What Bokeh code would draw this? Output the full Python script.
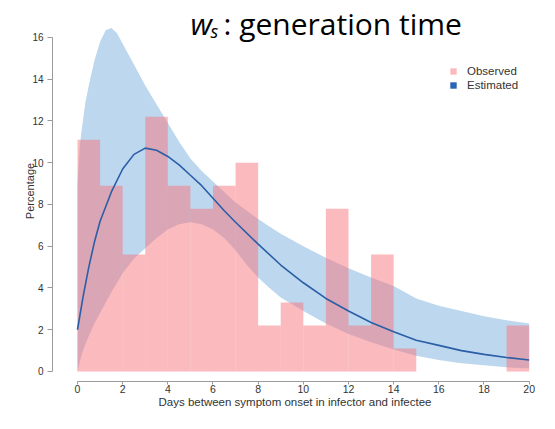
from bokeh.plotting import figure
from bokeh.models import Range1d, FixedTicker, Label, Legend, LegendItem
from bokeh.embed import file_html
from bokeh.resources import INLINE

# Observed histogram (percentage of pairs per 1-day bin)
bin_left = [0, 1, 2, 3, 4, 5, 6, 7, 8, 9, 10, 11, 12, 13, 14, 15, 16, 17, 18, 19]
bin_right = [1, 2, 3, 4, 5, 6, 7, 8, 9, 10, 11, 12, 13, 14, 15, 16, 17, 18, 19, 20]
observed = [11.1, 8.9, 5.6, 12.2, 8.9, 7.8, 8.9, 10.0, 2.2, 3.3,
            2.2, 7.8, 2.2, 5.6, 1.1, 0.0, 0.0, 0.0, 0.0, 2.2]

# Estimated distribution: credible band
band_x = [0, 0.1, 0.2, 0.35, 0.5, 0.75, 1, 1.25, 1.5, 1.75, 2, 2.5, 3, 3.5, 4, 4.5, 5, 5.5, 6, 6.5, 7,
          7.5, 8, 8.5, 9, 10, 11, 12, 13, 14, 15, 16, 17, 18, 19, 20]
band_lower = [0.0, 0.45, 0.85, 1.3, 1.7, 2.3, 2.8, 3.3, 3.8, 4.25, 4.7, 5.4, 5.9, 6.4, 6.8, 7.05, 7.15, 7.05, 6.8, 6.4, 5.8,
              5.1, 4.5, 4.0, 3.55, 2.9, 2.3, 1.8, 1.4, 1.05, 0.75, 0.55, 0.4, 0.3, 0.2, 0.15]
band_upper = [9.0, 10.8, 11.7, 12.9, 13.7, 14.9, 15.8, 16.35, 16.45, 16.2, 15.7, 14.7, 13.7, 12.8, 11.9, 11.0, 10.2, 9.6, 9.1, 8.6, 8.1,
              7.7, 7.3, 6.95, 6.6, 6.0, 5.45, 4.95, 4.5, 4.1, 3.5, 3.15, 2.9, 2.65, 2.45, 2.3]

# Estimated distribution: point estimate
est_x = [0, 0.25, 0.5, 0.75, 1, 1.5, 2, 2.5, 3, 3.5, 4, 4.5, 5, 5.5, 6, 6.5, 7,
         8, 9, 10, 11, 12, 13, 14, 15, 16, 17, 18, 19, 20]
est_y = [2.0, 3.6, 5.0, 6.2, 7.2, 8.6, 9.7, 10.4, 10.7, 10.6, 10.3, 9.9, 9.4, 8.9, 8.3, 7.7, 7.15,
         6.1, 5.1, 4.25, 3.5, 2.9, 2.35, 1.9, 1.5, 1.25, 1.0, 0.82, 0.67, 0.55]

x_ticks = [0, 2, 4, 6, 8, 10, 12, 14, 16, 18, 20]
y_ticks = [0, 2, 4, 6, 8, 10, 12, 14, 16]

FONT = "Liberation Sans"

p = figure(width=539, height=413, output_backend="svg", toolbar_location=None,
           x_range=Range1d(-1.107, 20.37), y_range=Range1d(-0.479, 17.77),
           min_border_left=52, min_border_right=2, min_border_top=0, min_border_bottom=32)
p.grid.visible = False
p.outline_line_color = None

band = p.varea(x=band_x, y1=band_lower, y2=band_upper, fill_color="#bdd7ef", fill_alpha=1.0)
bars = p.quad(left=bin_left, right=bin_right, bottom=0, top=observed,
              fill_color="#f7757b", fill_alpha=0.5, line_color=None)
line = p.line(est_x, est_y, line_color="#2a5ea6", line_width=1.6)
est_key = p.vbar(x=est_x, top=est_y, width=0.5, fill_color="#2a64b4", line_color=None, visible=False)

for ax in (p.xaxis, p.yaxis):
    ax.axis_line_color = "#9a9a9a"
    ax.major_tick_line_color = "#9a9a9a"
    ax.minor_tick_line_color = None
    ax.major_tick_in = 0
    ax.major_label_text_font = FONT
    ax.major_label_text_color = "#333333"
    ax.axis_label_text_font = FONT
    ax.axis_label_text_font_style = "normal"
    ax.axis_label_text_color = "#333333"

p.xaxis.major_label_text_font_size = "10.5px"
p.yaxis.major_label_text_font_size = "10px"
p.xaxis.axis_label_text_font_size = "11.5px"
p.yaxis.axis_label_text_font_size = "11px"
p.xaxis.ticker = FixedTicker(ticks=x_ticks)
p.yaxis.ticker = FixedTicker(ticks=y_ticks)
p.xaxis.bounds = (0, 20)
p.yaxis.bounds = (0, 16)
p.xaxis.major_tick_out = 3
p.yaxis.major_tick_out = 5
p.xaxis.major_label_standoff = 0
p.yaxis.major_label_standoff = 4
p.xaxis.axis_label_standoff = 0
p.yaxis.axis_label_standoff = -7
p.xaxis.axis_label = "Days between symptom onset in infector and infectee"
p.yaxis.axis_label = "Percentage"

legend = Legend(items=[LegendItem(label="Observed", renderers=[bars]),
                       LegendItem(label="Estimated", renderers=[est_key])],
                location=(397, 290), padding=0, margin=0, spacing=2,
                glyph_width=8, glyph_height=8, label_height=12, label_standoff=10,
                label_text_font=FONT, label_text_font_size="11.5px", label_text_color="#333333",
                border_line_color=None, background_fill_alpha=0)
p.add_layout(legend, "center")

TFONT = "Open Sans"
p.add_layout(Label(x=138, y=358, x_units="screen", y_units="screen", text="w",
                   text_font=TFONT, text_font_style="italic", text_font_size="30px",
                   text_baseline="alphabetic", text_color="#000000"))
p.add_layout(Label(x=158, y=351, x_units="screen", y_units="screen", text="s",
                   text_font=TFONT, text_font_style="italic", text_font_size="18px",
                   text_baseline="alphabetic", text_color="#000000"))
p.add_layout(Label(x=171, y=358, x_units="screen", y_units="screen", text=": generation time",
                   text_font=TFONT, text_font_size="30px",
                   text_baseline="alphabetic", text_color="#000000"))

open("out.html", "w").write(file_html(p, INLINE))
